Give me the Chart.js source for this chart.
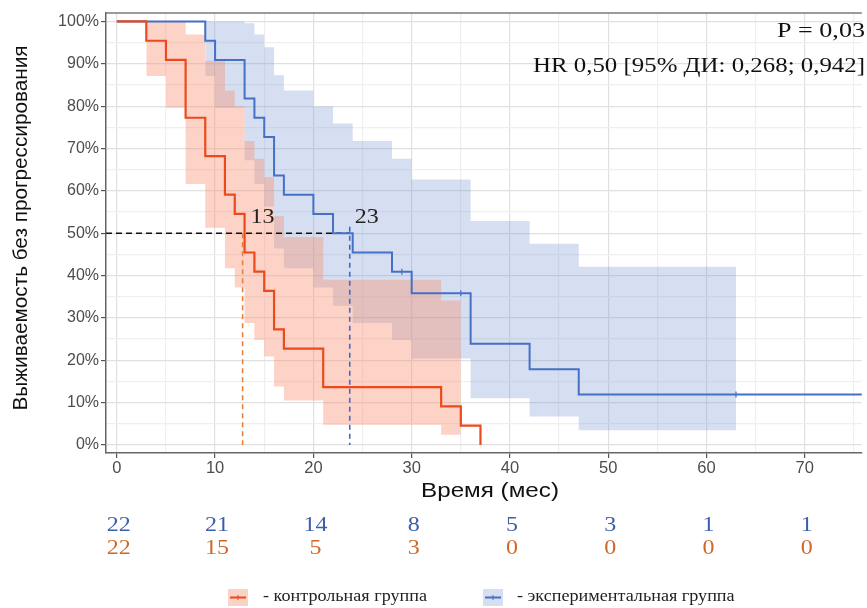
<!DOCTYPE html>
<html>
<head>
<meta charset="utf-8">
<script src="https://cdn.jsdelivr.net/npm/chart.js@4"></script>
<style>
  html, body { margin: 0; padding: 0; background: #ffffff; }
  #wrap { width: 867px; height: 608px; position: relative; }
</style>
</head>
<body>
<div id="wrap"><canvas id="km"></canvas></div>
<script>
// ── данные Каплана-Мейера ────────────────────────────────────────────────────
var ctrlT = [0, 3, 5, 7, 9, 11, 12, 13, 14, 15, 16, 17, 21, 33, 35, 37];
var ctrlS = [100, 95.45, 90.91, 77.27, 68.18, 59.09, 54.55, 45.45, 40.91, 36.36, 27.27, 22.73, 13.64, 9.09, 4.55, 0];
var ctrlBandT = [3, 5, 7, 9, 11, 12, 13, 14, 15, 16, 17, 21, 33, 35];
var ctrlHi = [100, 100, 96.9, 90.7, 83.7, 79.9, 71.8, 67.6, 63.2, 54.0, 49.1, 39.0, 34.1, 34.1];
var ctrlLo = [87.1, 79.6, 61.6, 51.3, 41.7, 37.2, 28.8, 24.8, 20.9, 13.8, 10.5, 4.8, 2.4, 2.4];

var expT = [0, 9, 10, 13, 14, 15, 16, 17, 20, 22, 24, 28, 30, 36, 42, 47, 76];
var expS = [100, 95.45, 90.91, 81.82, 77.27, 72.73, 63.64, 59.09, 54.55, 50, 45.45, 40.91, 35.8, 23.9, 17.9, 11.9, 11.9];
var expBandT = [9, 10, 13, 14, 15, 16, 17, 20, 22, 24, 28, 30, 36, 42, 47, 63];
var expHi = [100, 100, 99.6, 96.9, 93.9, 87.3, 83.7, 79.9, 75.9, 71.8, 67.6, 62.7, 52.9, 47.5, 42.1, 42.1];
var expLo = [87.1, 79.6, 67.2, 61.6, 56.3, 46.4, 41.7, 37.2, 32.9, 28.8, 24.8, 20.4, 11.0, 6.7, 3.5, 3.5];
var expCensT = [29, 35, 63];
var expCensS = [40.91, 35.8, 11.9];

var medianCtrl = 12.8;
var medianExp = 23.7;
var medianLabels = ["13", "23"];

var riskTimes = [0, 10, 20, 30, 40, 50, 60, 70];
var riskExp  = [22, 21, 14, 8, 5, 3, 1, 1];
var riskCtrl = [22, 15, 5, 3, 0, 0, 0, 0];

var legendLabels = ["- контрольная группа", "- экспериментальная группа"];
var pText  = "P = 0,03";
var hrText = "HR 0,50 [95% ДИ: 0,268; 0,942]";
var xTitle = "Время (мес)";
var yTitle = "Выживаемость без прогрессирования";

// ── цвета ────────────────────────────────────────────────────────────────────
var ctrlLine = "#ec4a1c";
var ctrlBand = "rgba(246,140,105,0.38)";
var expLine  = "#4470c8";
var expBand  = "rgba(120,145,210,0.30)";
var serif = "'Liberation Serif', 'DejaVu Serif', serif";
var sans  = "'Liberation Sans', Arial, sans-serif";

function pts(xs, ys) {
  return xs.map(function(x, i) { return { x: x, y: ys[i] }; });
}

// текст с подгонкой ширины (растяжение по горизонтали)
function fitText(ctx, str, x, y, w, font, color, align, sxFixed) {
  ctx.save();
  ctx.font = font;
  ctx.fillStyle = color;
  ctx.textBaseline = "middle";
  ctx.textAlign = align;
  var sx = sxFixed || (w ? w / ctx.measureText(str).width : 1);
  ctx.translate(x, y);
  ctx.scale(sx, 1);
  ctx.fillText(str, 0, 0);
  ctx.restore();
  return sx;
}

function bandSet(t, v, color, fill) {
  return {
    type: "line", data: pts(t, v), stepped: "before",
    borderColor: "rgba(0,0,0,0)", borderWidth: 0, pointRadius: 0,
    backgroundColor: color, fill: fill, order: 10
  };
}

var kmText = {
  id: "kmText",
  afterDraw: function(chart) {
    var ctx = chart.ctx, xs = chart.scales.x, ys = chart.scales.y, a = chart.chartArea;

    // верхняя рамка панели
    ctx.save();
    ctx.strokeStyle = "#7a7a7a"; ctx.lineWidth = 1.5;
    ctx.beginPath(); ctx.moveTo(a.left, a.top); ctx.lineTo(a.right, a.top); ctx.stroke();
    ctx.restore();

    // медианы
    fitText(ctx, medianLabels[0], xs.getPixelForValue(13.6), ys.getPixelForValue(53.8), 24, "22px " + serif, "#222", "left");
    fitText(ctx, medianLabels[1], xs.getPixelForValue(24.2), ys.getPixelForValue(53.8), 24, "22px " + serif, "#222", "left");

    // P и HR
    fitText(ctx, pText, 865, 32, 88, "20px " + serif, "#111", "right");
    fitText(ctx, hrText, 865, 67, 332, "20px " + serif, "#111", "right");

    // подписи осей
    fitText(ctx, xTitle, 490, 491, 138, "21px " + sans, "#111", "center");
    ctx.save();
    ctx.translate(22, 228);
    ctx.rotate(-Math.PI / 2);
    fitText(ctx, yTitle, 0, 0, 365, "19.5px " + sans, "#111", "center");
    ctx.restore();

    // число пациентов под риском
    ctx.save(); ctx.font = "20px " + serif;
    var rsx = 24 / ctx.measureText("22").width;
    ctx.restore();
    riskTimes.forEach(function(t, i) {
      var px = xs.getPixelForValue(t) + 2;
      fitText(ctx, String(riskExp[i]), px, 526, 0, "20px " + serif, "#3d5ea8", "center", rsx);
      fitText(ctx, String(riskCtrl[i]), px, 549, 0, "20px " + serif, "#d0682a", "center", rsx);
    });

    // легенда
    function swatch(x, fillC, lineC) {
      ctx.save();
      ctx.fillStyle = fillC; ctx.fillRect(x, 589, 20, 17);
      ctx.strokeStyle = lineC; ctx.lineWidth = 2;
      ctx.beginPath(); ctx.moveTo(x + 2, 597.5); ctx.lineTo(x + 18, 597.5); ctx.stroke();
      ctx.lineWidth = 1;
      ctx.beginPath(); ctx.moveTo(x + 10, 595); ctx.lineTo(x + 10, 600); ctx.stroke();
      ctx.restore();
    }
    swatch(228, "#fbd3c6", ctrlLine);
    swatch(483, "#d6def1", expLine);
    var lsx = fitText(ctx, legendLabels[0], 263, 597, 164, "16.5px " + serif, "#222", "left");
    fitText(ctx, legendLabels[1], 517, 597, 0, "16.5px " + serif, "#222", "left", lsx);
  }
};

function gridColor(c) { return c.tick && c.tick.value % 10 === 0 ? "#e0e0e0" : "#efefef"; }
function tickColor(c) { return c.tick && c.tick.value % 10 === 0 ? "#555555" : "rgba(0,0,0,0)"; }

var datasets = [
  // ступенчатые кривые
  { type: "line", data: pts(ctrlT, ctrlS), stepped: "before", borderColor: ctrlLine, borderWidth: 2.2, pointRadius: 0, fill: false, order: 1 },
  { type: "line", data: pts(expT, expS), stepped: "before", borderColor: expLine, borderWidth: 2, pointRadius: 0, fill: false, order: 1 },
  { type: "scatter", data: pts(expCensT, expCensS), showLine: false, pointStyle: "line", rotation: 90, pointRadius: 3, borderColor: expLine, borderWidth: 1.2, order: 1 },
  // медианные пунктиры
  { type: "line", data: [{ x: -1.1, y: 50 }, { x: medianExp, y: 50 }], borderColor: "#111", borderWidth: 1.6, borderDash: [6, 4], pointRadius: 0, fill: false, order: 2 },
  { type: "line", data: [{ x: medianCtrl, y: 50 }, { x: medianCtrl, y: 0 }], borderColor: "#e8803a", borderWidth: 1.6, borderDash: [5, 4], pointRadius: 0, fill: false, order: 2 },
  { type: "line", data: [{ x: medianExp, y: 51.5 }, { x: medianExp, y: 0 }], borderColor: "#4169c4", borderWidth: 1.6, borderDash: [5, 4], pointRadius: 0, fill: false, order: 2 },
  // доверительные интервалы
  bandSet(ctrlBandT, ctrlHi, ctrlBand, "+1"),
  bandSet(ctrlBandT, ctrlLo, ctrlBand, false),
  bandSet(expBandT, expHi, expBand, "+1"),
  bandSet(expBandT, expLo, expBand, false)
];

new Chart(document.getElementById("km"), {
  type: "line",
  data: { datasets: datasets },
  options: {
    responsive: true, maintainAspectRatio: false,
    animation: false, events: [],
    layout: { padding: { top: 13, right: 0, left: 0, bottom: 0 } },
    plugins: { legend: { display: false }, tooltip: { enabled: false } },
    scales: {
      x: {
        type: "linear", min: -1.1, max: 75.8,
        afterFit: function(axis) { axis.height = 155; },
        border: { display: true, color: "#666", width: 1.5 },
        grid: { color: gridColor, lineWidth: 1.2, tickLength: 5, tickColor: tickColor, tickWidth: 1.2 },
        ticks: {
          stepSize: 5, includeBounds: false, padding: 1, maxRotation: 0, autoSkip: false,
          font: { family: sans, size: 16.5 }, color: "#4d4d4d",
          callback: function(v) { return v % 10 === 0 ? v : ""; }
        }
      },
      y: {
        type: "linear", min: -1.9, max: 102,
        afterFit: function(axis) { axis.width = 106; },
        border: { display: true, color: "#666", width: 1.5 },
        grid: { color: gridColor, lineWidth: 1.2, tickLength: 5, tickColor: tickColor, tickWidth: 1.2 },
        ticks: {
          stepSize: 5, includeBounds: false, padding: 2, autoSkip: false,
          font: { family: sans, size: 16 }, color: "#4d4d4d",
          callback: function(v) { return v % 10 === 0 ? v + "%" : ""; }
        }
      }
    }
  },
  plugins: [kmText]
});
</script>
</body>
</html>
